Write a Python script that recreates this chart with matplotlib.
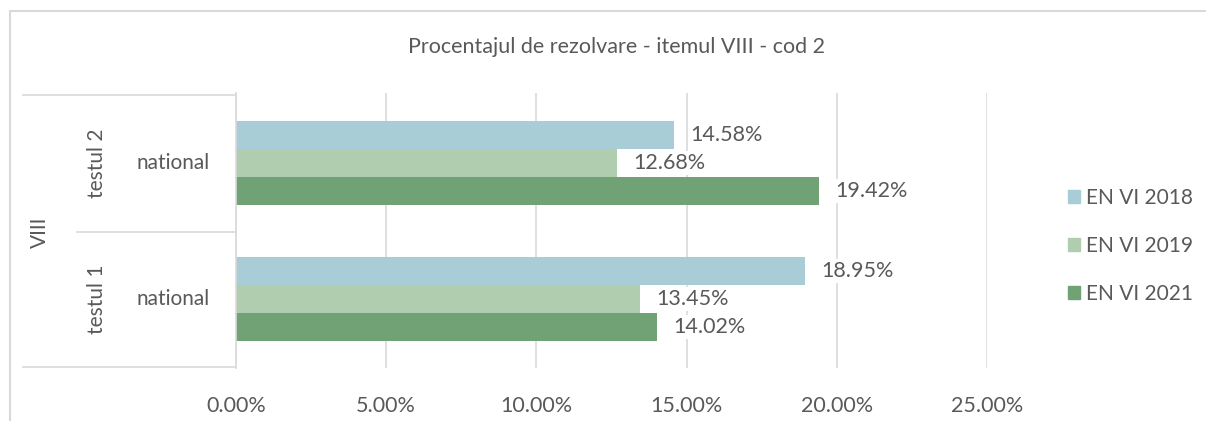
import matplotlib
matplotlib.use("Agg")
import matplotlib.pyplot as plt
from matplotlib.patches import Rectangle, Patch
from matplotlib.lines import Line2D

plt.rcParams['font.family'] = ['Lato', 'DejaVu Sans']

# data
groups = ["testul 1", "testul 2"]
series = ["EN VI 2018", "EN VI 2019", "EN VI 2021"]
vals_2018 = [18.95, 14.58]
vals_2019 = [13.45, 12.68]
vals_2021 = [14.02, 19.42]
xticks = [0, 5, 10, 15, 20, 25]
xtick_labels = ["0.00%", "5.00%", "10.00%", "15.00%", "20.00%", "25.00%"]
colors = ["#A9CDD7", "#B0CDAF", "#70A275"]

W, H = 1206, 421
fig = plt.figure(figsize=(W / 100, H / 100), dpi=100)
txt = "#595959"
grid = "#D9D9D9"
fs = 15

def fx(px):
    return px / W

def fy(py):
    return 1 - py / H

ax = fig.add_axes([fx(236), fy(368), fx(987) - fx(236), fy(93) - fy(368)])

bh = 0.206
offs = [bh, 0, -bh]
for vals, off, col, name in zip([vals_2018, vals_2019, vals_2021], offs, colors, series):
    ypos = [i + off for i in range(len(groups))]
    ax.barh(ypos, vals, height=bh, color=col, label=name, zorder=2)
    for y, v in zip(ypos, vals):
        ax.annotate(f"{v:.2f}%", (v, y), xytext=(11.5, 0), textcoords="offset points",
                    ha="left", va="center", fontsize=fs + 0.5, color=txt, zorder=4,
                    bbox=dict(boxstyle="square,pad=0.1", fc="white", ec="none"))

ax.set_xlim(0, 25)
ax.set_ylim(-0.507, 1.515)
ax.set_xticks(xticks)
ax.set_xticklabels(xtick_labels, fontsize=fs + 0.5, color=txt)
ax.tick_params(axis="x", length=0, pad=20)
ax.set_yticks([])
ax.grid(axis="x", color=grid, linewidth=1.2, zorder=0)
for s in ["top", "right", "bottom"]:
    ax.spines[s].set_visible(False)
ax.spines["left"].set_color(grid)
ax.spines["left"].set_linewidth(1.2)

# category table on the left
tf = fig.transFigure
for x0, x1, y in [(23, 235, 95), (77, 235, 232), (23, 235, 367)]:
    fig.add_artist(Line2D([fx(x0), fx(x1)], [fy(y), fy(y)], transform=tf, color=grid, lw=1.2))
for i, g in enumerate(groups):
    yc = ax.transData.transform((0, i))[1] / H
    fig.text(fx(173), yc, "national", ha="center", va="center", fontsize=fs, color=txt)
    fig.text(fx(97), yc, g, ha="center", va="center", fontsize=fs, color=txt, rotation=90)
fig.text(fx(40), fy(232), "VIII", ha="center", va="center", fontsize=fs, color=txt, rotation=90)

# title
fig.text(fx(616), fy(47), "Procentajul de rezolvare - itemul VIII - cod 2", ha="center",
         va="center", fontsize=15.5, color=txt)

# legend
handles = [Patch(color=c, label=s) for c, s in zip(colors, series)]
fig.legend(handles=handles, loc="center left", bbox_to_anchor=(fx(1058), fy(246)),
           frameon=False, fontsize=fs, labelcolor=txt, handlelength=0.55, handleheight=0.55,
           handletextpad=0.3, labelspacing=1.35, borderpad=0)

# outer frame
fig.add_artist(Rectangle((fx(10), fy(H + 5)), fx(W + 10) - fx(10), fy(11) - fy(H + 5),
                         transform=tf, fill=False, ec=grid, lw=1.5))

fig.savefig("out.png", dpi=100)
